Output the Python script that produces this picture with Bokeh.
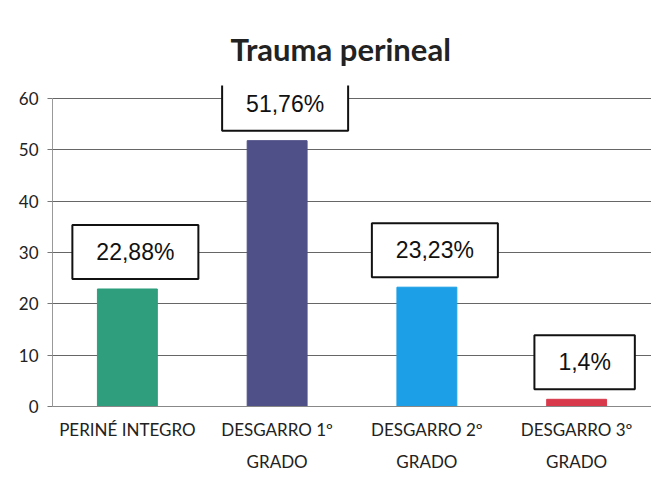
from bokeh.plotting import figure
from bokeh.models import Label, FixedTicker
from bokeh.embed import file_html
from bokeh.resources import INLINE

categories = ["PERINÉ INTEGRO", "DESGARRO 1º\nGRADO", "DESGARRO 2º\nGRADO", "DESGARRO 3º\nGRADO"]
values = [22.88, 51.76, 23.23, 1.4]
colors = ["#2e9e7c", "#4f5087", "#1c9fe6", "#d93a4b"]
y_ticks = [0, 10, 20, 30, 40, 50, 60]

p = figure(x_range=categories, y_range=(0, 62.5), width=651, height=475,
           output_backend="svg", toolbar_location=None,
           min_border_left=52, min_border_right=0, min_border_top=85, min_border_bottom=69)

p.vbar(x=categories, top=values, width=0.4, color=colors)

for i, v in enumerate(values):
    txt = ("%g" % v).replace(".", ",") + "%"
    # categorical synthetic coordinate: factor i is centred at i + 0.5
    p.add_layout(Label(x=i + 0.5, y=v, text=txt, x_offset=8, y_offset=10,
                       text_align="center", text_baseline="bottom",
                       text_font="Liberation Sans", text_font_size="23px", text_color="#111111",
                       padding=dict(left=24, right=24, top=14, bottom=14),
                       border_line_color="#111111", border_line_width=2,
                       background_fill_color="white"))

p.title.text = "Trauma perineal"
p.title.align = "left"
p.title.offset = 178
p.title.text_font = "Lato"
p.title.text_font_size = "31px"
p.title.text_font_style = "bold"
p.title.text_color = "#222222"
p.title.standoff = 35

p.yaxis.ticker = FixedTicker(ticks=y_ticks)
p.yaxis.bounds = (y_ticks[0], y_ticks[-1])
p.yaxis.major_label_text_font = "Lato"
p.yaxis.major_label_text_font_size = "17px"
p.yaxis.major_label_text_color = "#222222"
p.yaxis.axis_line_color = "#999999"
p.yaxis.major_tick_line_color = "#777777"
p.yaxis.major_tick_in = 0
p.yaxis.major_tick_out = 5
p.yaxis.minor_tick_line_color = None
p.yaxis.major_label_standoff = 9

p.xaxis.major_label_text_font = "Lato"
p.xaxis.major_label_text_font_size = "17px"
p.xaxis.major_label_text_line_height = 1.55
p.xaxis.major_label_text_color = "#222222"
p.xaxis.axis_line_color = "#888888"
p.xaxis.major_tick_line_color = None
p.xaxis.major_label_standoff = 6

p.xgrid.grid_line_color = None
p.ygrid.grid_line_color = "#666666"
p.ygrid.grid_line_width = 1
p.outline_line_color = None
p.x_range.range_padding = 0

open("out.html", "w").write(file_html(p, INLINE))
